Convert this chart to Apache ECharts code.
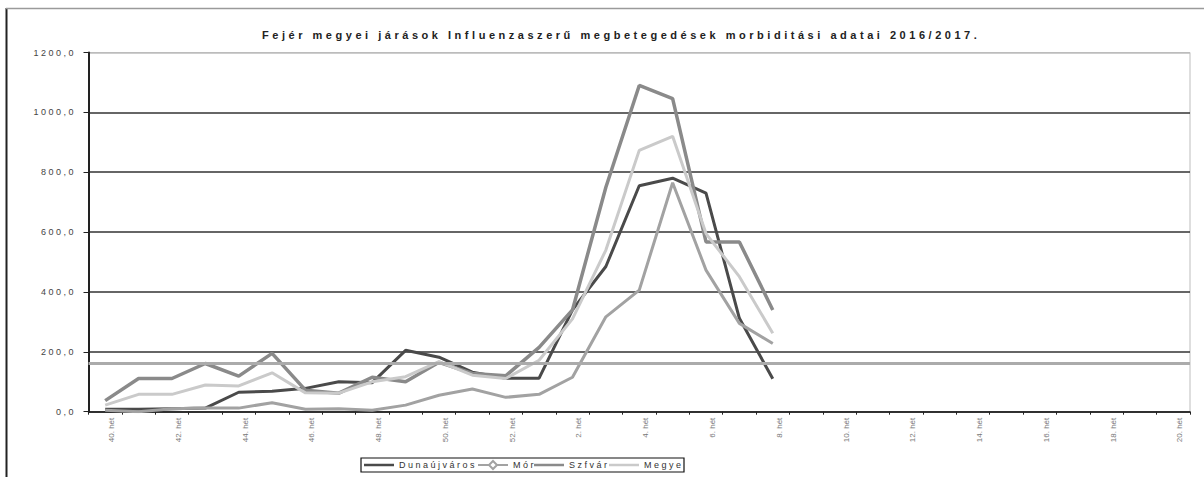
<!DOCTYPE html>
<html>
<head>
<meta charset="utf-8">
<script src="https://cdn.jsdelivr.net/npm/echarts@6/dist/echarts.min.js"></script>
<style>
html,body{margin:0;padding:0;background:#fff;}
#chart{width:1204px;height:477px;}
</style>
</head>
<body>
<div id="chart"></div>
<script>
const TITLE = 'Fejér megyei járások Influenzaszerű megbetegedések morbiditási adatai 2016/2017.';
const weeks = ['40. hét','41. hét','42. hét','43. hét','44. hét','45. hét','46. hét','47. hét','48. hét','49. hét','50. hét','51. hét','52. hét',
  '1. hét','2. hét','3. hét','4. hét','5. hét','6. hét','7. hét','8. hét','9. hét','10. hét','11. hét','12. hét','13. hét','14. hét','15. hét','16. hét','17. hét','18. hét','19. hét','20. hét'];
const seriesNames = ['Dunaújváros','Mór','Szfvár','Megye'];
const dunaujvaros = [8, 8, 10, 12, 65, 68, 78, 100, 97, 205, 182, 132, 112, 112, 340, 485, 755, 780, 730, 312, 110];
const mor         = [5, 0, 10, 12, 12, 30, 8, 10, 5, 22, 55, 76, 48, 58, 115, 317, 406, 765, 473, 295, 228];
const szfvar      = [37, 111, 111, 161, 119, 195, 72, 62, 115, 100, 165, 128, 120, 215, 340, 750, 1090, 1046, 567, 567, 340];
const megye       = [22, 58, 58, 89, 86, 130, 63, 62, 100, 117, 167, 122, 111, 172, 310, 540, 873, 920, 595, 451, 262];
const threshold = 161;
const yMin = 0, yMax = 1200, yStep = 200;

const chart = echarts.init(document.getElementById('chart'), null, {renderer: 'svg'});
const FONT = 'Liberation Sans, Arial, sans-serif';

function legendItem(name, left, withMarker) {
  const base = {
    data: [name], left: left, top: 460, padding: 0, itemGap: 0,
    itemWidth: 30, itemHeight: 10,
    textStyle: {fontSize: 9, lineHeight: 10, color: '#333', fontFamily: FONT},
    selectedMode: false
  };
  if (!withMarker) base.icon = 'path://M0,0H30V2.5H0Z';
  return base;
}

const option = {
  animation: false,
  backgroundColor: '#fff',
  title: {
    text: TITLE, left: 257, top: 24,
    textStyle: {fontFamily: 'Liberation Sans Narrow, Liberation Sans, Arial', fontSize: 11, fontWeight: 'bold', color: '#222'}
  },
  grid: {left: 88.5, right: 14, top: 52.5, bottom: 65.3, show: true, borderColor: '#bdbdbd', borderWidth: 1},
  xAxis: {
    type: 'category', data: weeks, boundaryGap: true,
    axisLine: {lineStyle: {color: '#222', width: 1.5}},
    axisTick: {show: true, interval: 0, length: 3, lineStyle: {color: '#222'}},
    axisLabel: {interval: 1, rotate: 90, fontSize: 8, color: '#777', margin: 6, fontFamily: FONT,
      verticalAlign: 'top', lineHeight: 13},
    splitLine: {show: false}
  },
  yAxis: {
    type: 'value', min: yMin, max: yMax, interval: yStep,
    axisLine: {show: true, lineStyle: {color: '#222', width: 2}},
    axisTick: {show: true, length: 5, lineStyle: {color: '#222'}},
    axisLabel: {fontSize: 9, color: '#444', margin: 15, fontFamily: FONT,
      formatter: v => v.toFixed(1).replace('.', ',')},
    splitLine: {show: true, lineStyle: {color: ['#333','#333','#333','#333','#333','#333','#bdbdbd'], width: 1.5}}
  },
  legend: [
    legendItem('Dunaújváros', 364, false),
    legendItem('Mór', 477, true),
    legendItem('Szfvár', 534, false),
    legendItem('Megye', 609, false)
  ],
  graphic: [
    {type: 'rect', z: 0, shape: {x: 361, y: 458, width: 323, height: 14}, style: {fill: '#fff', stroke: '#111', lineWidth: 1.2}},
    {type: 'line', z: 0, shape: {x1: 6.5, y1: 8, x2: 6.5, y2: 477}, style: {stroke: '#222', lineWidth: 2}},
    {type: 'line', z: 0, shape: {x1: 6, y1: 8.5, x2: 1204, y2: 8.5}, style: {stroke: '#9a9a9a', lineWidth: 1.5}}
  ],
  series: [
    {name: 'Dunaújváros', type: 'line', data: dunaujvaros, symbol: 'none',
      lineStyle: {color: '#4a4a4a', width: 3}, itemStyle: {color: '#4a4a4a'},
      markLine: {silent: true, symbol: ['none','none'], label: {show: false},
        lineStyle: {color: '#ababab', width: 3, type: 'solid'}, data: [{yAxis: threshold}]}},
    {name: 'Mór', type: 'line', data: mor, symbol: 'emptyDiamond', symbolSize: 6, showSymbol: false,
      lineStyle: {color: '#a2a2a2', width: 3}, itemStyle: {color: '#a2a2a2'}},
    {name: 'Szfvár', type: 'line', data: szfvar, symbol: 'none',
      lineStyle: {color: '#8a8a8a', width: 3.5}, itemStyle: {color: '#8a8a8a'}},
    {name: 'Megye', type: 'line', data: megye, symbol: 'none',
      lineStyle: {color: '#cacaca', width: 3}, itemStyle: {color: '#cacaca'}}
  ]
};
chart.setOption(option);

function applySpacing() {
  const texts = document.querySelectorAll('#chart svg text');
  texts.forEach(t => {
    const s = t.textContent;
    if (s.indexOf('Fejér') === 0) {
      t.setAttribute('letter-spacing', '0');
      const w = t.getComputedTextLength();
      const sp = (715 - w) / (s.length - 1);
      t.setAttribute('letter-spacing', sp.toFixed(2));
    } else if (/^\d+,\d$/.test(s)) {
      t.setAttribute('letter-spacing', '2.5');
      t.setAttribute('dx', '2.5');
    } else if (seriesNames.indexOf(s) >= 0) {
      t.setAttribute('letter-spacing', '2.5');
    }
  });
}
applySpacing();
chart.on('finished', applySpacing);
</script>
</body>
</html>
